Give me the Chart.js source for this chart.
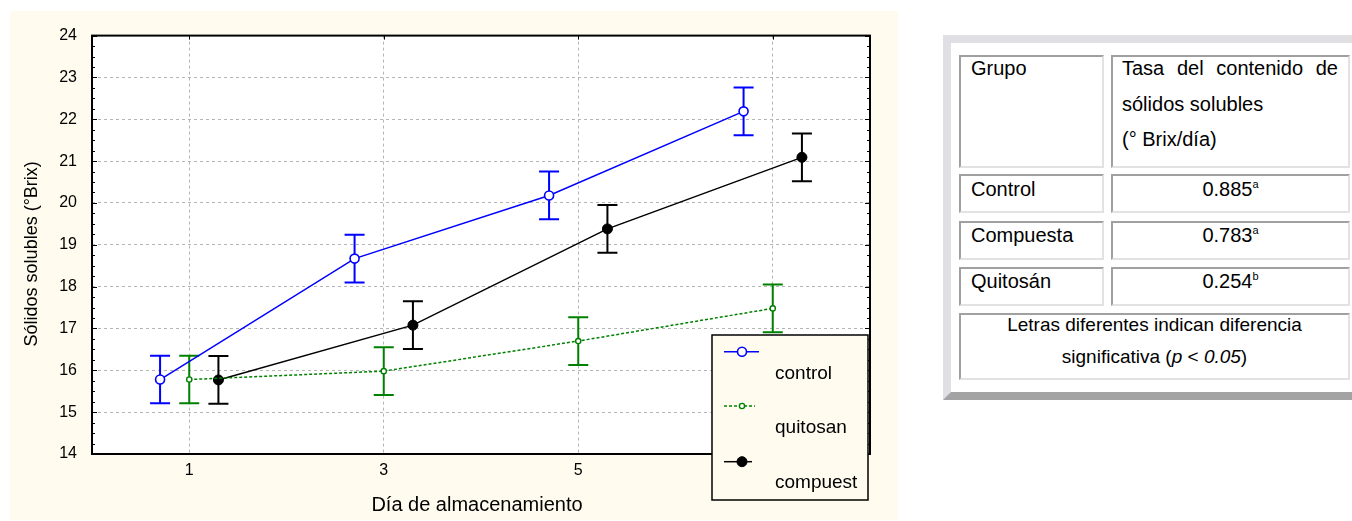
<!DOCTYPE html>
<html>
<head>
<meta charset="utf-8">
<script src="https://cdn.jsdelivr.net/npm/chart.js@4.4.0/dist/chart.umd.min.js"></script>
<style>
html,body{margin:0;padding:0;background:#fff;width:1352px;height:521px;overflow:hidden;font-family:"Liberation Sans",Arial,sans-serif;}
#chartbox{position:absolute;left:10px;top:11px;width:888px;height:509px;background:#fffcef;}
#tbl{position:absolute;left:943px;top:35px;width:430px;height:365px;box-sizing:border-box;border:8px solid;border-color:#dfdfe4 #a3a3a3 #a3a3a3 #dfdfe4;background:#fff;}
.cell{position:absolute;box-sizing:border-box;border:2px solid;border-color:#a0a0a0 #e2e2e2 #e2e2e2 #a0a0a0;font-size:20px;color:#000;line-height:23px;white-space:nowrap;}
.sup{font-size:11px;position:relative;top:-8px;line-height:0;}
</style>
</head>
<body>
<div id="chartbox"><canvas id="c"></canvas></div>

<div id="tbl"></div>
<div class="cell" style="left:959px;top:55px;width:145px;height:113px;padding-left:10px;">Grupo</div>
<div class="cell" style="left:1111px;top:55px;width:239px;height:113px;padding-left:9px;padding-right:10px;">
  <div style="margin-top:-6px;line-height:35.5px;">
    <div style="text-align:justify;text-align-last:justify;">Tasa del contenido de</div>
    <div>sólidos solubles</div>
    <div>(° Brix/día)</div>
  </div>
</div>
<div class="cell" style="left:959px;top:174px;width:145px;height:39px;padding-left:10px;padding-top:2px;">Control</div>
<div class="cell" style="left:1111px;top:174px;width:239px;height:39px;text-align:center;padding-top:2px;">0.885<span class="sup">a</span></div>
<div class="cell" style="left:959px;top:220.5px;width:145px;height:39.5px;padding-left:10px;padding-top:1px;">Compuesta</div>
<div class="cell" style="left:1111px;top:220.5px;width:239px;height:39.5px;text-align:center;padding-top:1px;">0.783<span class="sup">a</span></div>
<div class="cell" style="left:959px;top:266.7px;width:145px;height:39.3px;padding-left:10px;padding-top:1px;">Quitosán</div>
<div class="cell" style="left:1111px;top:266.7px;width:239px;height:39.3px;text-align:center;padding-top:1px;">0.254<span class="sup">b</span></div>
<div class="cell" style="left:959px;top:313px;width:391px;height:67px;text-align:center;font-size:19px;">
  <div style="margin-top:-5.7px;line-height:31.6px;">
    <div>Letras diferentes indican diferencia</div>
    <div>significativa (<i>p</i> &lt; <i>0.05</i>)</div>
  </div>
</div>

<script>
// ---- data ----
const days = [1, 3, 5, 7];
const xTickLabels = ['1', '3', '5', '7'];
const yTickLabels = ['14', '15', '16', '17', '18', '19', '20', '21', '22', '23', '24'];
const seriesNames = ['control', 'quitosan', 'compuest'];
const controlMean = [15.78, 18.67, 20.18, 22.19];
const controlErr = [0.57, 0.57, 0.57, 0.57];
const quitosanMean = [15.78, 15.98, 16.70, 17.48];
const quitosanErr = [0.57, 0.57, 0.57, 0.57];
const compuestMean = [15.77, 17.08, 19.38, 21.09];
const compuestErr = [0.57, 0.57, 0.57, 0.57];
const xTitle = 'Día de almacenamiento';
const yTitle = 'Sólidos solubles (°Brix)';

// ---- style ----
const FONT = '"Liberation Sans", Arial, sans-serif';
const CREAM = '#fffcef';
const dodge = [-0.3, 0, 0.3];
const means = [controlMean, quitosanMean, compuestMean];
const errs = [controlErr, quitosanErr, compuestErr];
const styles = [
  {color: '#0000ff', dash: [], radius: 4.5, fill: '#ffffff', pbw: 1.6},
  {color: '#008000', dash: [3, 2], radius: 2.6, fill: '#ffffff', pbw: 1.4},
  {color: '#000000', dash: [], radius: 5, fill: '#000000', pbw: 1}
];

const datasets = seriesNames.map((name, s) => ({
  label: name,
  data: days.map((d, i) => ({x: d + dodge[s], y: means[s][i]})),
  borderColor: styles[s].color,
  borderWidth: 1.5,
  borderDash: styles[s].dash,
  pointRadius: styles[s].radius,
  pointBackgroundColor: styles[s].fill,
  pointBorderColor: styles[s].color,
  pointBorderWidth: styles[s].pbw,
  tension: 0,
  fill: false,
  errs: errs[s]
}));

const bgPlugin = {
  id: 'bg',
  beforeDraw(chart) {
    const {ctx, chartArea: a} = chart;
    ctx.save();
    ctx.fillStyle = '#ffffff';
    ctx.fillRect(a.left, a.top, a.right - a.left, a.bottom - a.top);
    ctx.restore();
  }
};

const errPlugin = {
  id: 'errbars',
  beforeDatasetsDraw(chart) {
    const {ctx, scales: {x, y}} = chart;
    ctx.save();
    chart.data.datasets.forEach((ds) => {
      ctx.strokeStyle = ds.borderColor;
      ctx.lineWidth = 2;
      ctx.setLineDash([]);
      ds.data.forEach((p, i) => {
        const px = x.getPixelForValue(p.x);
        const top = y.getPixelForValue(p.y + ds.errs[i]);
        const bot = y.getPixelForValue(p.y - ds.errs[i]);
        ctx.beginPath();
        ctx.moveTo(px, top); ctx.lineTo(px, bot);
        ctx.moveTo(px - 10, top); ctx.lineTo(px + 10, top);
        ctx.moveTo(px - 10, bot); ctx.lineTo(px + 10, bot);
        ctx.stroke();
      });
    });
    ctx.restore();
  }
};

const framePlugin = {
  id: 'frame',
  afterDatasetsDraw(chart) {
    const {ctx, chartArea: a, scales: {x, y}} = chart;
    ctx.save();
    ctx.strokeStyle = '#000';
    ctx.setLineDash([]);
    ctx.lineWidth = 1;
    ctx.beginPath();
    for (let v = y.min; v <= y.max + 1e-9; v += 0.25) {
      const py = Math.round(y.getPixelForValue(v)) + 0.5;
      const len = Math.abs(v - Math.round(v)) < 1e-6 ? 5 : 3;
      ctx.moveTo(a.left, py); ctx.lineTo(a.left + len, py);
      ctx.moveTo(a.right, py); ctx.lineTo(a.right - len, py);
    }
    days.forEach(d => {
      const px = Math.round(x.getPixelForValue(d)) + 0.5;
      ctx.moveTo(px, a.top); ctx.lineTo(px, a.top + 4);
    });
    ctx.stroke();
    ctx.lineWidth = 2;
    ctx.strokeRect(a.left, a.top, a.right - a.left, a.bottom - a.top);
    ctx.restore();
  }
};

const titlesPlugin = {
  id: 'titles',
  afterDraw(chart) {
    const {ctx, chartArea: a} = chart;
    ctx.save();
    ctx.fillStyle = '#000';
    ctx.font = '20px ' + FONT;
    ctx.textAlign = 'center';
    ctx.textBaseline = 'middle';
    ctx.fillText(xTitle, (a.left + a.right) / 2 - 4, 494);
    ctx.translate(22.5, (a.top + a.bottom) / 2 + 9);
    ctx.rotate(-Math.PI / 2);
    ctx.font = '18px ' + FONT;
    ctx.fillText(yTitle, 0, 0);
    ctx.restore();
  }
};

const legendPlugin = {
  id: 'boxlegend',
  afterDraw(chart) {
    const {ctx} = chart;
    const L = 702, T = 324, R = 858, B = 489;
    ctx.save();
    ctx.fillStyle = CREAM;
    ctx.fillRect(L, T, R - L, B - T);
    ctx.strokeStyle = '#000';
    ctx.lineWidth = 1.5;
    ctx.setLineDash([]);
    ctx.strokeRect(L, T, R - L, B - T);
    const sampleY = [340.7, 395, 450.7];
    const textY = [368.3, 422.3, 477.3];
    const sampleEnd = [749, 745, 742];
    chart.data.datasets.forEach((ds, s) => {
      ctx.strokeStyle = ds.borderColor;
      ctx.lineWidth = 1.5;
      ctx.setLineDash(ds.borderDash);
      ctx.beginPath();
      ctx.moveTo(714, sampleY[s]);
      ctx.lineTo(sampleEnd[s], sampleY[s]);
      ctx.stroke();
      ctx.setLineDash([]);
      ctx.beginPath();
      ctx.arc(732, sampleY[s], ds.pointRadius, 0, Math.PI * 2);
      ctx.fillStyle = ds.pointBackgroundColor;
      ctx.fill();
      ctx.lineWidth = ds.pointBorderWidth;
      ctx.strokeStyle = ds.pointBorderColor;
      ctx.stroke();
      ctx.fillStyle = '#000';
      ctx.font = '19px ' + FONT;
      ctx.textAlign = 'left';
      ctx.textBaseline = 'alphabetic';
      ctx.fillText(ds.label, 765, textY[s]);
    });
    ctx.restore();
  }
};

Chart.defaults.font.family = FONT;
Chart.defaults.color = '#000';

new Chart(document.getElementById('c'), {
  type: 'line',
  data: {datasets},
  options: {
    responsive: true,
    maintainAspectRatio: false,
    animation: false,
    layout: {padding: {top: 23, right: 28, left: 0, bottom: 0}},
    plugins: {legend: {display: false}, tooltip: {enabled: false}},
    scales: {
      x: {
        type: 'linear',
        min: 0, max: 8,
        afterBuildTicks: (sc) => { sc.ticks = days.map(v => ({value: v})); },
        afterFit: (sc) => { sc.height = 66; },
        ticks: {
          font: {size: 16},
          padding: 7,
          callback: (v) => xTickLabels[days.indexOf(v)]
        },
        grid: {color: '#b4b4b4', lineWidth: 1, drawTicks: false},
        border: {display: false, dash: [3, 3]}
      },
      y: {
        min: 14, max: 24,
        afterBuildTicks: (sc) => { sc.ticks = yTickLabels.map(t => ({value: Number(t)})); },
        afterFit: (sc) => { sc.width = 82; },
        ticks: {
          font: {size: 16},
          padding: 15,
          callback: (v) => yTickLabels[yTickLabels.indexOf(String(v))]
        },
        grid: {
          color: (c) => (c.tick && (c.tick.value === 14 || c.tick.value === 24)) ? 'rgba(0,0,0,0)' : '#b4b4b4',
          lineWidth: 1, drawTicks: false
        },
        border: {display: false, dash: [3, 3]}
      }
    }
  },
  plugins: [bgPlugin, errPlugin, framePlugin, titlesPlugin, legendPlugin]
});
</script>
</body>
</html>
